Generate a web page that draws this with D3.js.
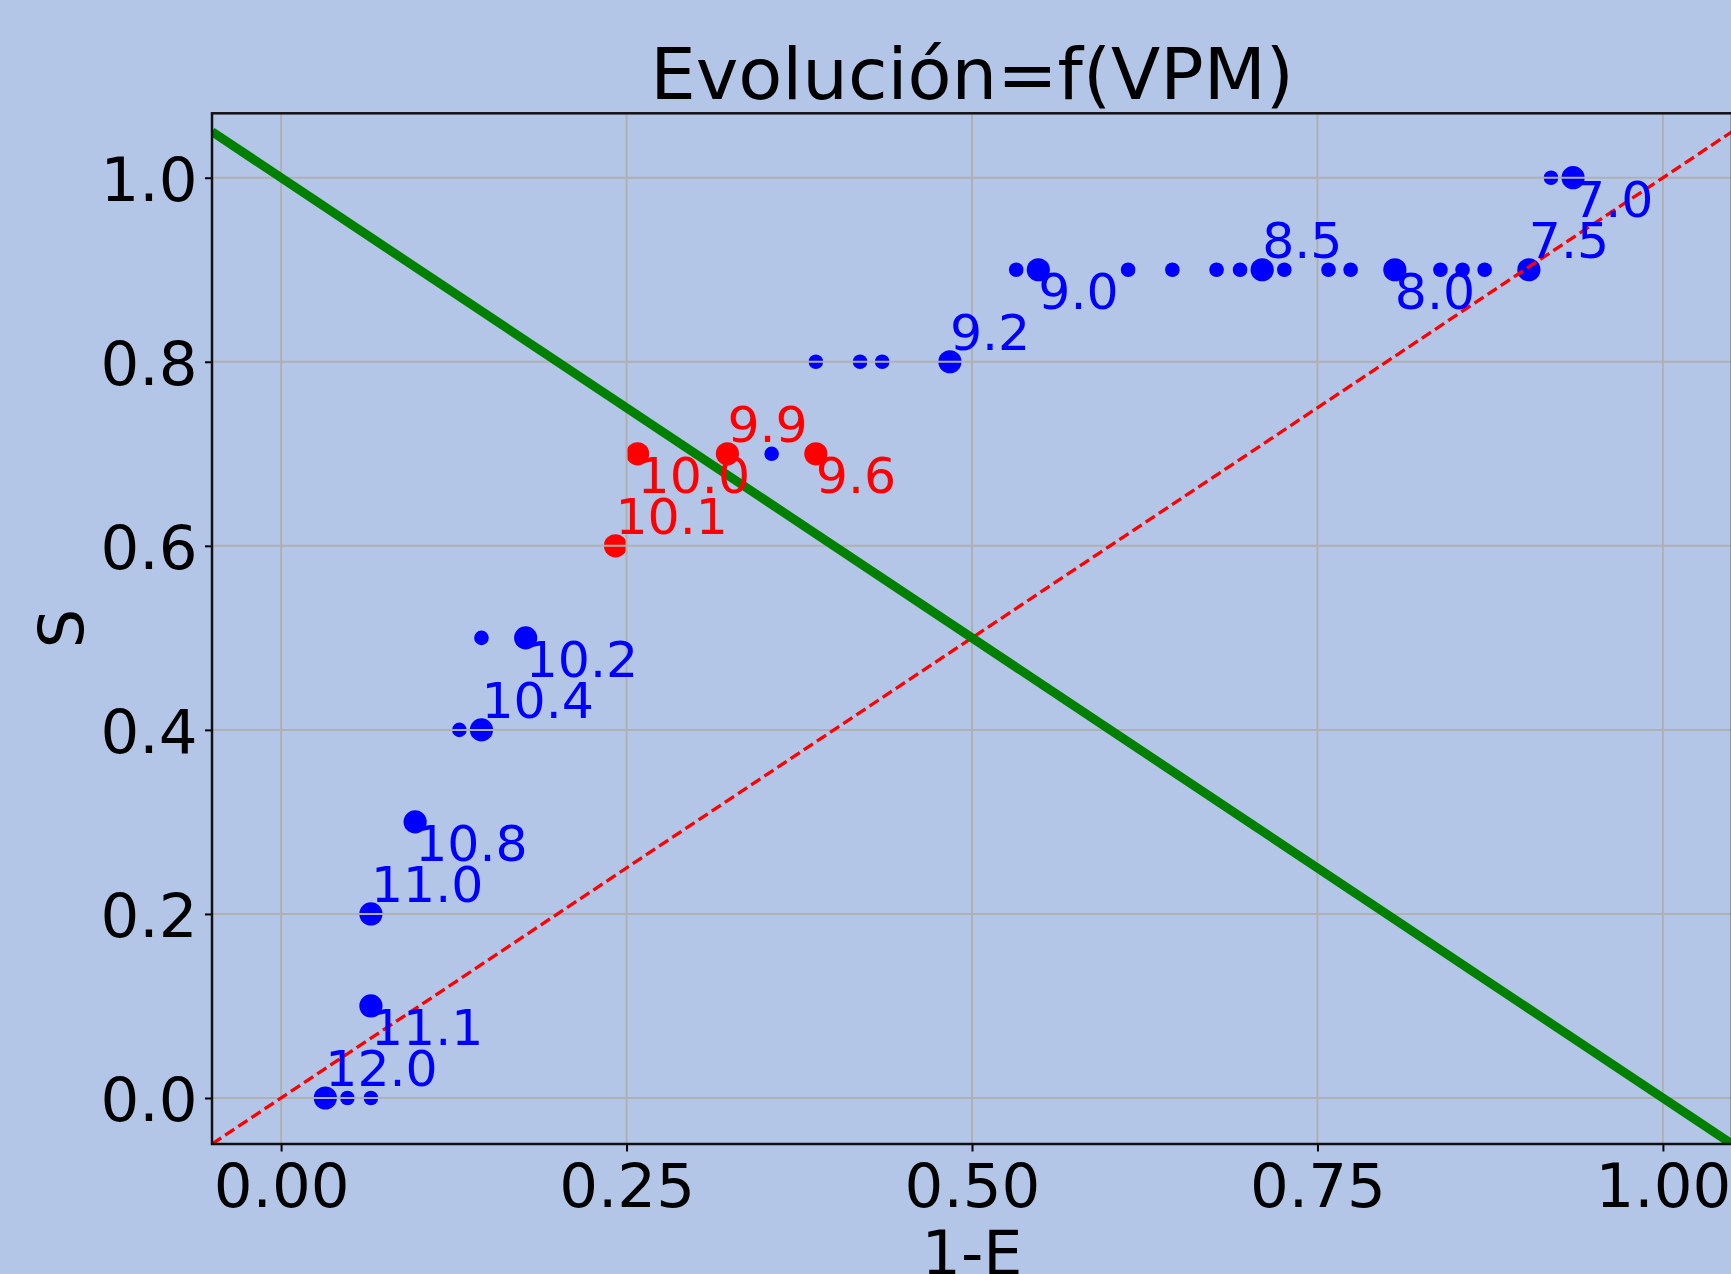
<!DOCTYPE html>
<html>
<head>
<meta charset="utf-8">
<script src="https://cdn.jsdelivr.net/npm/d3@7/dist/d3.min.js"></script>
<style>
  html, body { margin: 0; padding: 0; background: #b3c6e7; }
  svg { display: block; font-family: "DejaVu Sans", sans-serif; }
</style>
</head>
<body>
<svg id="chart" width="1731" height="1274"></svg>
<script>
// Labelled VPM stages (large markers), ordered from highest VPM to lowest
const vpmLabels = ["12.0", "11.1", "11.0", "10.8", "10.4", "10.2", "10.1", "10.0", "9.9", "9.6", "9.2", "9.0", "8.5", "8.0", "7.5", "7.0"];
const vpmX      = [0.032, 0.065, 0.065, 0.097, 0.145, 0.177, 0.242, 0.258, 0.323, 0.387, 0.484, 0.548, 0.710, 0.806, 0.903, 0.935];
const vpmS      = [0.0,   0.1,   0.2,   0.3,   0.4,   0.5,   0.6,   0.7,   0.7,   0.7,   0.8,   0.9,   0.9,   0.9,   0.9,   1.0];
const vpmGroup  = ["ok", "ok", "ok", "ok", "ok", "ok", "warn", "warn", "warn", "warn", "ok", "ok", "ok", "ok", "ok", "ok"];

// Intermediate (unlabelled) stages, small markers
const midX = [0.048, 0.065, 0.129, 0.145, 0.355, 0.387, 0.419, 0.435, 0.532, 0.613, 0.645, 0.677, 0.694, 0.726, 0.758, 0.774, 0.839, 0.855, 0.871, 0.919];
const midS = [0.0,   0.0,   0.4,   0.5,   0.7,   0.8,   0.8,   0.8,   0.9,   0.9,   0.9,   0.9,   0.9,   0.9,   0.9,   0.9,   0.9,   0.9,   0.9,   1.0];

// Reference lines: S = 1-E (boundary) and S = E (diagonal)
const boundaryX = [-0.05, 1.05];
const boundaryS = [1.05, -0.05];
const diagX = [-0.05, 1.05];
const diagS = [-0.05, 1.05];

// Axis ticks
const xTicks = [0, 0.25, 0.5, 0.75, 1.0];
const xTickLabels = ["0.00", "0.25", "0.50", "0.75", "1.00"];
const yTicks = [0, 0.2, 0.4, 0.6, 0.8, 1.0];
const yTickLabels = ["0.0", "0.2", "0.4", "0.6", "0.8", "1.0"];

const xDomain = [-0.05, 1.05];
const yDomain = [-0.05, 1.07];

const svg = d3.select("#chart");
const W = 1731, H = 1274;
const plot = { left: 212, right: 1732, top: 113.3, bottom: 1144 };
const groupColor = { ok: "#0000ff", warn: "#ff0000" };

const x = d3.scaleLinear().domain(xDomain).range([plot.left, plot.right]);
const y = d3.scaleLinear().domain(yDomain).range([plot.bottom, plot.top]);

svg.append("rect").attr("width", W).attr("height", H).attr("fill", "#b3c6e7");

svg.append("clipPath").attr("id", "plotClip")
  .append("rect")
  .attr("x", plot.left).attr("y", plot.top)
  .attr("width", plot.right - plot.left).attr("height", plot.bottom - plot.top);

const inner = svg.append("g").attr("clip-path", "url(#plotClip)");

// Scatter markers (drawn beneath the grid)
inner.append("g").selectAll("circle.mid")
  .data(midX.map((v, i) => ({ x: v, s: midS[i] })))
  .join("circle")
  .attr("cx", d => x(d.x)).attr("cy", d => y(d.s))
  .attr("r", 7.3).attr("fill", "#0000ff");

const main = vpmLabels.map((lab, i) => ({ lab, x: vpmX[i], s: vpmS[i], g: vpmGroup[i], i }));
inner.append("g").selectAll("circle.main")
  .data(main)
  .join("circle")
  .attr("cx", d => x(d.x)).attr("cy", d => y(d.s))
  .attr("r", 11.6).attr("fill", d => groupColor[d.g]);

// Grid
const grid = inner.append("g").attr("stroke", "#b0b0b0").attr("stroke-width", 2);
grid.selectAll("line.gx").data(xTicks).join("line")
  .attr("x1", d => x(d)).attr("x2", d => x(d))
  .attr("y1", plot.top).attr("y2", plot.bottom);
grid.selectAll("line.gy").data(yTicks).join("line")
  .attr("x1", plot.left).attr("x2", plot.right)
  .attr("y1", d => y(d)).attr("y2", d => y(d));

// Reference lines
const line = d3.line().x(d => x(d[0])).y(d => y(d[1]));
inner.append("path")
  .datum(diagX.map((v, i) => [v, diagS[i]]))
  .attr("d", line)
  .attr("fill", "none").attr("stroke", "#ff0000")
  .attr("stroke-width", 3.3).attr("stroke-dasharray", "11,4.8");
inner.append("path")
  .datum(boundaryX.map((v, i) => [v, boundaryS[i]]))
  .attr("d", line)
  .attr("fill", "none").attr("stroke", "#008000")
  .attr("stroke-width", 9);

// Axes
const xAxis = svg.append("g")
  .attr("transform", `translate(0,${plot.bottom})`)
  .call(d3.axisBottom(x).tickValues(xTicks)
    .tickFormat((d, i) => xTickLabels[i]).tickSize(7.5));
xAxis.select(".domain").remove();
xAxis.selectAll(".tick line").attr("stroke", "#000").attr("stroke-width", 2);
xAxis.selectAll(".tick text")
  .attr("y", 63.3).attr("dy", null)
  .attr("fill", "#000").attr("font-size", 61)
  .attr("font-family", "DejaVu Sans");

const yAxis = svg.append("g")
  .attr("transform", `translate(${plot.left},0)`)
  .call(d3.axisLeft(y).tickValues(yTicks)
    .tickFormat((d, i) => yTickLabels[i]).tickSize(7));
yAxis.select(".domain").remove();
yAxis.selectAll(".tick line").attr("stroke", "#000").attr("stroke-width", 2);
yAxis.selectAll(".tick text")
  .attr("x", -14.5).attr("dy", 22.5)
  .attr("fill", "#000").attr("font-size", 61)
  .attr("font-family", "DejaVu Sans");

// Spines
svg.append("rect")
  .attr("x", plot.left).attr("y", plot.top)
  .attr("width", plot.right - plot.left).attr("height", plot.bottom - plot.top)
  .attr("fill", "none").attr("stroke", "#111").attr("stroke-width", 2.5);

// Stage labels, alternating above / below their marker
svg.append("g").selectAll("text.lab")
  .data(main)
  .join("text")
  .attr("x", d => x(d.x))
  .attr("y", d => y(d.s) + (d.i % 2 === 0 ? -11.5 : 39))
  .attr("fill", d => groupColor[d.g])
  .attr("font-size", 50.5)
  .text(d => d.lab);

// Title and axis titles
svg.append("text")
  .attr("x", (plot.left + plot.right) / 2).attr("y", 99)
  .attr("text-anchor", "middle").attr("font-size", 72).attr("fill", "#000")
  .text("Evolución=f(VPM)");

svg.append("text")
  .attr("x", (plot.left + plot.right) / 2).attr("y", 1275)
  .attr("text-anchor", "middle").attr("font-size", 62).attr("fill", "#000")
  .text("1-E");

svg.append("text")
  .attr("transform", `translate(83,${(plot.top + plot.bottom) / 2}) rotate(-90)`)
  .attr("text-anchor", "middle").attr("font-size", 62).attr("fill", "#000")
  .text("S");
</script>
</body>
</html>
